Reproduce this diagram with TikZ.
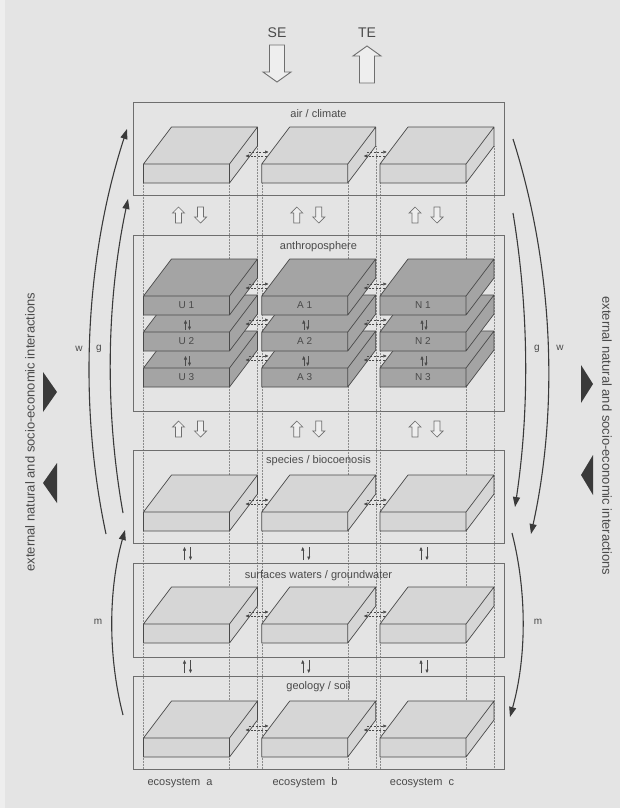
\documentclass[tikz,border=0pt]{standalone}
\usepackage{fontspec}
\setmainfont{Liberation Sans}
\usetikzlibrary{arrows.meta,positioning,calc}

\definecolor{bgcol}{HTML}{E4E4E4}
\definecolor{edgecol}{HTML}{6E6E6E}
\definecolor{slabcol}{HTML}{D6D6D6}
\definecolor{anthcol}{HTML}{A4A4A4}
\definecolor{inkcol}{HTML}{4A4A4A}
\definecolor{arrcol}{HTML}{3A3A3A}
\definecolor{hollowcol}{HTML}{EEEEEE}

\begin{document}
\begin{tikzpicture}[
  x=1pt, y=-1pt,
  layer/.style={rectangle, draw=edgecol, line width=0.8pt, minimum width=371pt,
                inner sep=0pt},
  lbl/.style={font=\fontsize{11}{13}\selectfont, text=inkcol, inner sep=0pt},
  slabtxt/.style={font=\fontsize{10}{12}\selectfont, text=inkcol, inner sep=0pt},
  sidetxt/.style={font=\fontsize{13}{15}\selectfont, text=inkcol, inner sep=0pt},
  bigtxt/.style={font=\fontsize{14}{16}\selectfont, text=inkcol, inner sep=0pt},
  hollow/.style={draw=edgecol, fill=hollowcol, line width=0.7pt},
  curv/.style={draw=arrcol, line width=1.1pt, -{Triangle[length=10pt,width=7pt]}},
  flow/.style={draw=inkcol, line width=0.5pt, dash pattern=on 2pt off 1.5pt,
               -{Triangle[length=3.5pt,width=3pt]}},
  tiny/.style={draw=inkcol, line width=0.5pt, -{Triangle[length=3.5pt,width=3pt]}},
  column/.style={draw=edgecol!80, line width=0.5pt, densely dotted},
  pics/slab/.style={code={
    \filldraw[fill=#1, draw=inkcol, line width=0.7pt, line join=round]
      (0,0) rectangle (86,-19)
      (0,-19) -- (28,-56) -- (114,-56) -- (86,-19) -- cycle
      (86,0) -- (86,-19) -- (114,-56) -- (114,-37) -- cycle;
  }},
  pics/upbar/.style={code={
    \draw[hollow] (0,0) -- (6,6) -- (3,6) -- (3,16) -- (-3,16) -- (-3,6) -- (-6,6) -- cycle;
  }},
  pics/downbar/.style={code={
    \draw[hollow] (0,16) -- (6,10) -- (3,10) -- (3,0) -- (-3,0) -- (-3,10) -- (-6,10) -- cycle;
  }}
]
  \fill[bgcol] (0,0) rectangle (620,808);
  \fill[hollowcol] (0,0) rectangle (5,808);
  \useasboundingbox (0,0) rectangle (620,808);

  % column guides
  \foreach \x in {143.5,261.75,380} {
    \draw[column] (\x,183) -- (\x,769);
    \draw[column] (\x+86,183) -- (\x+86,769);
    \draw[column] (\x+114,146) -- (\x+114,769);
  }

  % layers
  \node[layer, minimum height=93pt]  (air)     at (318.5,148.5) {};
  \node[layer, minimum height=176pt] (anthro)  at (318.5,323) {};
  \node[layer, minimum height=93pt]  (species) at (318.5,496.5) {};
  \node[layer, minimum height=94pt]  (water)   at (318.5,610) {};
  \node[layer, minimum height=93pt]  (soil)    at (318.5,722.5) {};

  \node[lbl] (airlbl)     at ([yshift=-12pt]air.north)     {air / climate};
  \node[lbl] (anthrolbl)  at ([yshift=-12pt]anthro.north)  {anthroposphere};
  \node[lbl] (specieslbl) at ([yshift=-11pt]species.north) {species / biocoenosis};
  \node[lbl] (waterlbl)   at ([yshift=-13pt]water.north)   {surfaces waters / groundwater};
  \node[lbl] (soillbl)    at ([yshift=-11pt]soil.north)    {geology / soil};

  % plain slabs
  \foreach \x in {143.5,261.75,380}
    \foreach \y in {183,531,643,757}
      \pic at (\x,\y) {slab=slabcol};

  % anthroposphere stacks
  \foreach \x/\col in {143.5/U,261.75/A,380/N} {
    \foreach \y/\lev in {387/3,351/2,315/1} {
      \pic at (\x,\y) {slab=anthcol};
      \node[slabtxt] (\col\lev) at (\x+43,\y-9.5) {\col\ \lev};
    }
    \foreach \y in {351,387} {
      \draw[tiny] (\x+42,\y-21) -- (\x+42,\y-31);
      \draw[tiny] (\x+46,\y-31) -- (\x+46,\y-21);
    }
  }

  % exchange between ecosystems
  \foreach \x in {143.5,261.75}
    \foreach \y in {183,315,351,387,531,643,757} {
      \draw[flow] (\x+105,\y-31) -- (\x+125,\y-31);
      \draw[flow] (\x+123,\y-27) -- (\x+102,\y-27);
    }

  % exchange between layers
  \foreach \x in {143.5,261.75,380} {
    \foreach \t in {207,421} {
      \pic at (\x+35,\t) {upbar};
      \pic at (\x+57,\t) {downbar};
    }
    \foreach \t in {547,660} {
      \draw[tiny] (\x+41,\t+13) -- (\x+41,\t);
      \draw[tiny] (\x+47,\t) -- (\x+47,\t+13);
    }
  }

  % SE / TE
  \node[bigtxt] (se) at (277,33) {SE};
  \node[bigtxt] (te) at (367,33) {TE};
  \draw[hollow, line width=0.9pt] (269.5,45) -- (284.5,45) -- (284.5,72) -- (291,72)
    -- (277,82) -- (263,72) -- (269.5,72) -- cycle;
  \draw[hollow, line width=0.9pt] (367,46) -- (381,56) -- (374.5,56) -- (374.5,83)
    -- (359.5,83) -- (359.5,56) -- (353,56) -- cycle;

  % cycles, left
  \coordinate (wLs) at (106,534);  \coordinate (wLe) at (127,129);
  \coordinate (gLs) at (123,513);  \coordinate (gLe) at (128,199);
  \coordinate (mLs) at (123,715);  \coordinate (mLe) at (125,530);
  \draw[curv] (wLs) .. controls (77.8,401.8) and (85.3,257.6) .. (wLe);
  \draw[curv] (gLs) .. controls (104.6,409.9) and (106.4,301.5) .. (gLe);
  \draw[curv] (mLs) .. controls (107.7,655.3) and (108.4,589.4) .. (mLe);
  \node[slabtxt] (wL) at (79,349) {w};
  \node[slabtxt] (gL) at (99,349) {g};
  \node[slabtxt] (mL) at (98,622) {m};

  % cycles, right
  \coordinate (wRs) at (513,139);  \coordinate (wRe) at (531,534);
  \coordinate (gRs) at (513,213);  \coordinate (gRe) at (515,507);
  \coordinate (mRs) at (512,533);  \coordinate (mRe) at (510,717);
  \draw[curv] (wRs) .. controls (552.9,264.6) and (559.3,405.2) .. (wRe);
  \draw[curv] (gRs) .. controls (529,309.7) and (529.6,410.1) .. (gRe);
  \draw[curv] (mRs) .. controls (527.2,592.4) and (526.5,657.9) .. (mRe);
  \node[slabtxt] (gR) at (537,349) {g};
  \node[slabtxt] (wR) at (560,348) {w};
  \node[slabtxt] (mR) at (538,622) {m};

  % external interactions
  \fill[arrcol] (43,372) -- (57,392) -- (43,412) -- cycle;
  \fill[arrcol] (57,463) -- (43,483) -- (57,503) -- cycle;
  \fill[arrcol] (581,365) -- (593,384) -- (581,403) -- cycle;
  \fill[arrcol] (593,455) -- (581,475) -- (593,495) -- cycle;
  \node[sidetxt, rotate=90]  (extL) at (30,432)
    {external natural and socio-economic interactions};
  \node[sidetxt, rotate=-90] (extR) at (607,436)
    {external natural and socio-economic interactions};

  % ecosystems
  \node[lbl] (ecoa) at (180,783) {ecosystem~~a};
  \node[lbl] (ecob) at (305,783) {ecosystem~~b};
  \node[lbl] (ecoc) at (422,783) {ecosystem~~c};
\end{tikzpicture}
\end{document}
